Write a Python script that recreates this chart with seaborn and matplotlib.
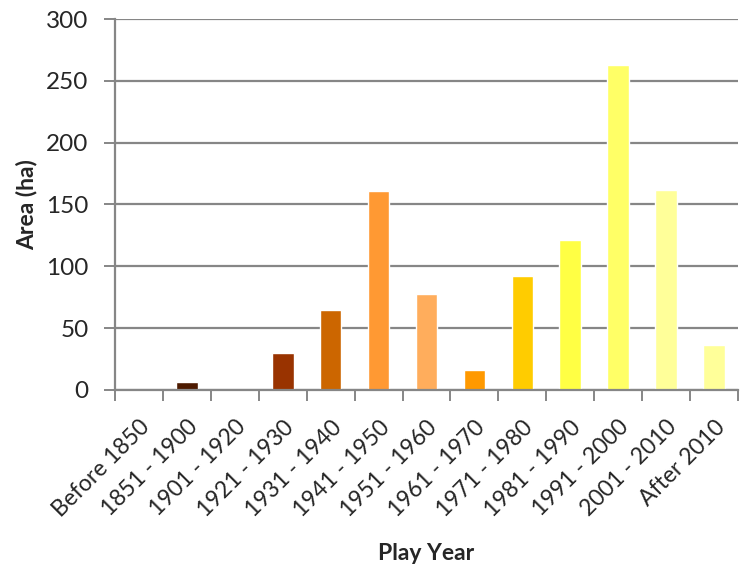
import matplotlib
matplotlib.use("Agg")
import matplotlib.pyplot as plt
import seaborn as sns
import pandas as pd
import numpy as np

categories = ["Before 1850", "1851 - 1900", "1901 - 1920", "1921 - 1930", "1931 - 1940",
              "1941 - 1950", "1951 - 1960", "1961 - 1970", "1971 - 1980", "1981 - 1990",
              "1991 - 2000", "2001 - 2010", "After 2010"]
area = [0, 6.5, 0, 30, 65, 161, 78, 16, 92, 121, 263, 162, 36]
colors = ["#ffffff", "#4d1a00", "#ffffff", "#993300", "#cc6600", "#ff9933", "#ffad5c",
          "#ff9900", "#ffcc00", "#ffff44", "#ffff66", "#ffff99", "#ffff99"]

sns.set_theme(style="white")
plt.rcParams['font.family'] = ['Lato', 'DejaVu Sans']

df = pd.DataFrame({"Play Year": categories, "Area (ha)": area})

fig = plt.figure(figsize=(7.54, 5.73), dpi=100)
ax = fig.add_axes([115/754, 1 - 390/573, (738-115)/754, (390-19)/573])

sns.barplot(data=df, x="Play Year", y="Area (ha)", hue="Play Year", palette=colors,
            legend=False, width=0.45, ax=ax, saturation=1)

gc = "#868686"
ax.set_ylim(0, 300)
ax.set_xlim(-0.5, len(categories) - 0.5)
ax.set_yticks(np.arange(0, 301, 50))
ax.yaxis.grid(True, color=gc, linewidth=1.6)
ax.set_axisbelow(True)
for s in ["top", "right"]:
    ax.spines[s].set_visible(False)
for s in ["left", "bottom"]:
    ax.spines[s].set_color(gc)
    ax.spines[s].set_linewidth(1.6)

ax.set_xticks(np.arange(-0.5, len(categories), 1.0), minor=False)
ax.set_xticklabels([])
ax.set_xticks(np.arange(len(categories)), minor=True)
ax.set_xticklabels(categories, minor=True, rotation=45, ha="right", va="top",
                   rotation_mode="anchor", fontsize=16.5)
ax.tick_params(axis="x", which="major", direction="out", length=8, width=1.4, color=gc, bottom=True)
ax.tick_params(axis="x", which="minor", length=0, pad=19, bottom=True)
ax.tick_params(axis="y", direction="out", length=8, width=1.4, color=gc, left=True,
               labelsize=17.5, pad=11)

ax.set_xlabel("Play Year", fontsize=16.5, fontweight="bold", labelpad=16)
ax.set_ylabel("Area (ha)", fontsize=16.5, fontweight="bold", labelpad=6)

fig.savefig("out.png", dpi=100)
